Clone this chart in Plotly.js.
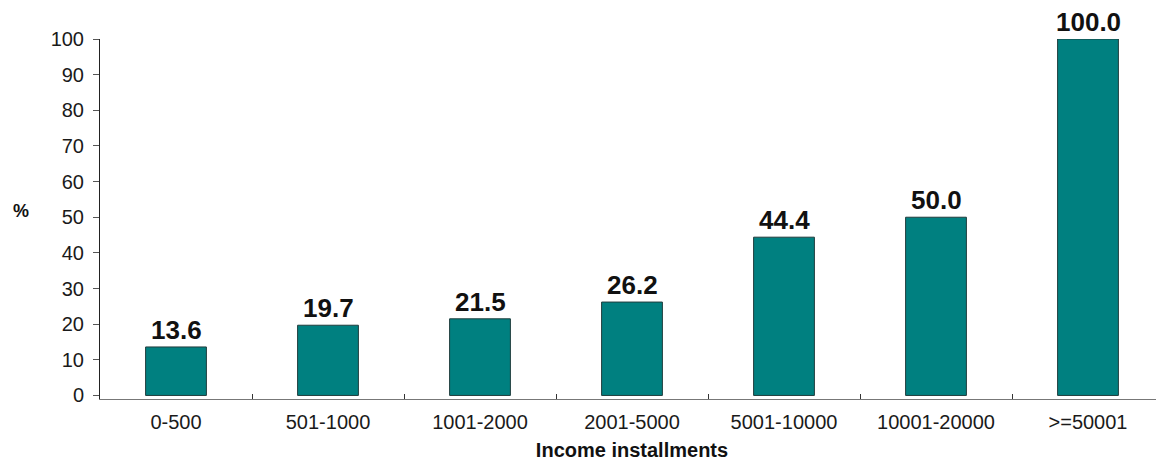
<!DOCTYPE html>
<html>
<head>
<meta charset="utf-8">
<script src="https://cdn.plot.ly/plotly-3.0.1.min.js"></script>
<style>html,body{margin:0;padding:0;overflow:hidden;background:#fff;}#chart{width:1172px;height:461px;}</style>
</head>
<body>
<div id="chart"></div>
<script>
const categories = ["0-500", "501-1000", "1001-2000", "2001-5000", "5001-10000", "10001-20000", ">=50001"];
const values = [13.6, 19.7, 21.5, 26.2, 44.4, 50.0, 100.0];
const yTicks = [0, 10, 20, 30, 40, 50, 60, 70, 80, 90, 100];
const xTitle = "Income installments";
const yTitle = "%";

const trace = {
  type: "bar",
  x: categories,
  y: values,
  width: 0.4,
  marker: {color: "#008080", line: {color: "#1f3c3c", width: 1}},
  hoverinfo: "none",
  cliponaxis: false
};

const labelAnnotations = categories.map((c, i) => ({
  x: c, y: values[i], xref: "x", yref: "y",
  text: "<b>" + values[i].toFixed(1) + "</b>", showarrow: false,
  yanchor: "bottom", yshift: 0,
  font: {family: "Liberation Sans, Arial, sans-serif", size: 26, color: "#111"}
}));

const layout = {
  width: 1172, height: 461,
  margin: {l: 100, r: 8, t: 39, b: 62, pad: 0},
  paper_bgcolor: "#fff", plot_bgcolor: "#fff",
  showlegend: false,
  font: {family: "Liberation Sans, Arial, sans-serif", color: "#1a1a1a"},
  xaxis: {
    type: "category",
    tickson: "boundaries",
    ticks: "inside", ticklen: 5, tickcolor: "#333", tickwidth: 1,
    showline: true, linecolor: "#777", linewidth: 1,
    showgrid: false, zeroline: false,
    tickfont: {size: 20, color: "#1a1a1a"},
    ticklabelstandoff: 5,
    title: {text: "<b>" + xTitle + "</b>", font: {size: 20, color: "#111"}, standoff: 10},
    fixedrange: true
  },
  yaxis: {
    range: [-1, 100],
    tickvals: yTicks,
    ticks: "outside", ticklen: 6, tickcolor: "#555", tickwidth: 1,
    showline: true, linecolor: "#222", linewidth: 1,
    showgrid: false, zeroline: false,
    tickfont: {size: 20, color: "#1a1a1a"},
    ticklabelstandoff: 5,
    fixedrange: true
  },
  annotations: labelAnnotations.concat([{
    xref: "paper", yref: "paper", x: -0.0742, y: 0.5215,
    xanchor: "center", yanchor: "middle",
    text: "<b>" + yTitle + "</b>", showarrow: false,
    font: {size: 18, color: "#111"}
  }])
};

Plotly.newPlot("chart", [trace], layout, {displayModeBar: false, staticPlot: true});
</script>
</body>
</html>
